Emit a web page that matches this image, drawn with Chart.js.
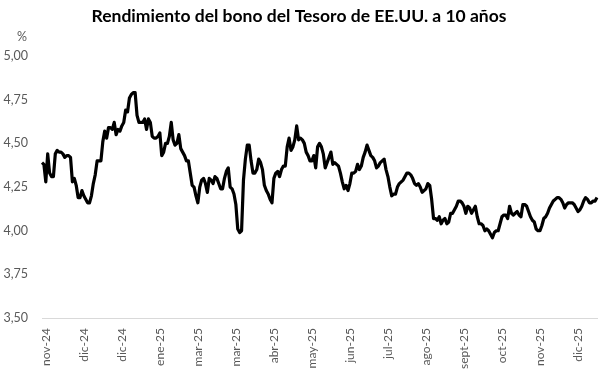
<!DOCTYPE html>
<html>
<head>
<meta charset="utf-8">
<script src="https://cdn.jsdelivr.net/npm/chart.js@4"></script>
<style>
  html, body { margin: 0; padding: 0; background: #ffffff; }
  canvas { display: block; }
</style>
</head>
<body>
<canvas id="c" width="614" height="382"></canvas>
<script>
// ---- Data ----
const chartTitle = "Rendimiento del bono del Tesoro de EE.UU. a 10 años";
const unitLabel = "%";
const tickLabels = ["nov-24","dic-24","dic-24","ene-25","mar-25","mar-25","abr-25","may-25","jun-25","jul-25","ago-25","sept-25","oct-25","nov-25","dic-25"];
const tickFirstIndex = 2;
const tickEvery = 20;
const yTicks = [3.50, 3.75, 4.00, 4.25, 4.50, 4.75, 5.00];
const yields = [
  4.39,4.38,4.28,4.44,4.33,4.31,4.31,4.44,4.46,4.45,
  4.45,4.44,4.42,4.43,4.43,4.42,4.28,4.30,4.26,4.19,
  4.19,4.23,4.20,4.18,4.16,4.16,4.20,4.27,4.32,4.40,
  4.40,4.40,4.51,4.57,4.53,4.59,4.59,4.58,4.62,4.55,
  4.58,4.57,4.60,4.62,4.69,4.68,4.76,4.78,4.79,4.79,
  4.66,4.62,4.62,4.62,4.64,4.58,4.64,4.62,4.54,4.53,
  4.53,4.54,4.56,4.43,4.45,4.50,4.50,4.54,4.62,4.52,
  4.49,4.50,4.55,4.47,4.45,4.43,4.40,4.40,4.33,4.26,
  4.25,4.20,4.16,4.25,4.29,4.30,4.27,4.22,4.30,4.29,
  4.27,4.31,4.30,4.27,4.24,4.24,4.30,4.34,4.36,4.25,
  4.24,4.21,4.15,4.01,3.99,4.00,4.29,4.41,4.49,4.49,
  4.40,4.33,4.33,4.35,4.41,4.39,4.35,4.26,4.23,4.21,
  4.18,4.16,4.30,4.33,4.34,4.31,4.35,4.37,4.37,4.48,
  4.53,4.46,4.48,4.52,4.60,4.52,4.53,4.52,4.50,4.45,
  4.43,4.40,4.40,4.43,4.36,4.48,4.50,4.48,4.44,4.36,
  4.39,4.42,4.45,4.38,4.39,4.38,4.37,4.33,4.28,4.24,
  4.26,4.23,4.27,4.33,4.33,4.34,4.38,4.35,4.37,4.42,
  4.45,4.49,4.46,4.43,4.42,4.40,4.36,4.37,4.39,4.40,
  4.41,4.35,4.31,4.25,4.20,4.21,4.21,4.25,4.27,4.28,
  4.29,4.31,4.33,4.33,4.32,4.30,4.27,4.26,4.27,4.25,
  4.22,4.23,4.24,4.27,4.26,4.18,4.07,4.07,4.06,4.08,
  4.04,4.06,4.07,4.04,4.05,4.10,4.10,4.12,4.14,4.17,
  4.17,4.16,4.14,4.10,4.14,4.13,4.10,4.12,4.14,4.08,
  4.04,4.04,4.03,4.00,4.01,4.00,3.98,3.96,3.99,4.00,
  4.00,4.04,4.08,4.09,4.09,4.07,4.14,4.10,4.09,4.10,
  4.11,4.09,4.08,4.15,4.15,4.14,4.11,4.08,4.06,4.05,
  4.01,4.00,4.00,4.03,4.07,4.08,4.10,4.13,4.15,4.17,
  4.18,4.19,4.19,4.18,4.16,4.13,4.15,4.16,4.16,4.16,
  4.15,4.13,4.11,4.12,4.14,4.17,4.19,4.18,4.16,4.16,
  4.17,4.17,4.19
];

// Build category labels: a tick label every `tickEvery` points
const labels = yields.map((_, i) => {
  const k = i - tickFirstIndex;
  return (k >= 0 && k % tickEvery === 0 && tickLabels[k / tickEvery] !== undefined) ? tickLabels[k / tickEvery] : "";
});

const FONT = "Lato, 'Open Sans', sans-serif";
const GREY = "#595959";

const unitPlugin = {
  id: "unitLabel",
  afterDraw(chart) {
    const ctx = chart.ctx;
    ctx.save();
    ctx.font = "12.5px " + FONT;
    ctx.fillStyle = GREY;
    ctx.textAlign = "center";
    ctx.textBaseline = "middle";
    ctx.fillText(unitLabel, 22, 37);
    ctx.restore();
  }
};

new Chart(document.getElementById("c"), {
  type: "line",
  data: {
    labels: labels,
    datasets: [{
      data: yields,
      borderColor: "#000000",
      borderWidth: 3.2,
      pointRadius: 0,
      tension: 0,
      fill: false,
      borderJoinStyle: "round"
    }]
  },
  options: {
    responsive: false,
    animation: false,
    devicePixelRatio: 1,
    layout: { padding: { left: 1, right: 17, top: 0, bottom: 3 } },
    plugins: {
      legend: { display: false },
      tooltip: { enabled: false },
      title: {
        display: true,
        text: chartTitle,
        color: "#000000",
        font: { family: FONT, size: 17.5, weight: "bold" },
        padding: { top: 6, bottom: 29 }
      }
    },
    scales: {
      x: {
        type: "category",
        grid: { display: false, drawTicks: false },
        border: { display: true, color: "#d9d9d9", width: 1 },
        ticks: {
          autoSkip: false,
          maxRotation: 90,
          minRotation: 90,
          padding: 10,
          color: GREY,
          font: { family: FONT, size: 12 },
          callback: function(v, i) { const l = labels[i]; return l === "" ? null : l; }
        }
      },
      y: {
        min: 3.5,
        max: 5.0,
        afterBuildTicks: (scale) => { scale.ticks = yTicks.map(v => ({ value: v })); },
        afterFit: (scale) => { scale.width = 41; },
        grid: { display: false, drawTicks: false },
        border: { display: false },
        ticks: {
          padding: 14,
          color: GREY,
          font: { family: FONT, size: 12.5 },
          callback: (v) => Number(v).toFixed(2).replace(".", ",")
        }
      }
    }
  },
  plugins: [unitPlugin]
});
</script>
</body>
</html>
